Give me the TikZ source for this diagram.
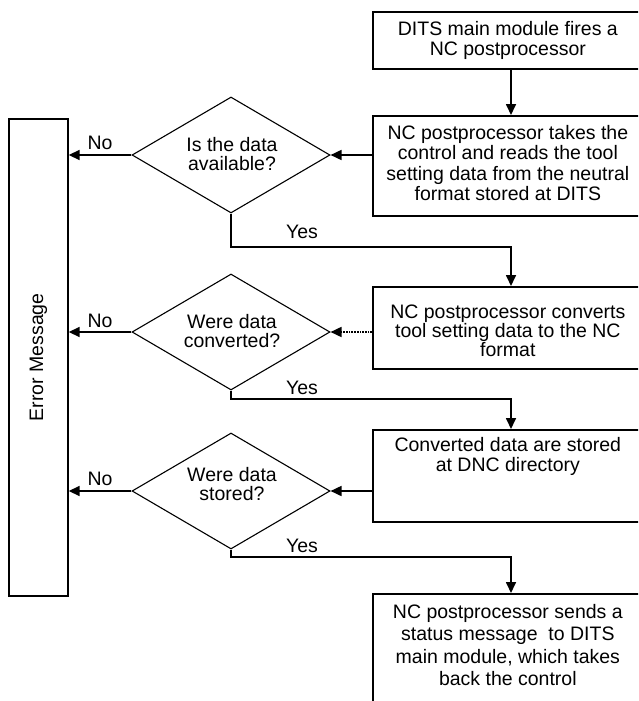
\documentclass[tikz,border=0pt]{standalone}
\usepackage{fontspec}
\setmainfont{Liberation Sans}
\usetikzlibrary{arrows.meta,shapes.geometric,calc}

\begin{document}
\begin{tikzpicture}[x=1pt,y=-1pt,
  box/.style={draw, line width=1.7pt, inner sep=0pt, anchor=north west, minimum width=270pt},
  txt/.style={font=\fontsize{19.5}{20.5}\selectfont, align=center, inner sep=0pt},
  dia/.style={draw, shape=diamond, line width=1.1pt, minimum width=198pt, minimum height=116pt, inner sep=0pt, aspect=1.7},
  flow/.style={line width=1.7pt, -{Triangle[length=11pt,width=10pt]}},
  lbl/.style={font=\fontsize{19.5}{20}\selectfont, inner sep=0pt}
]
\useasboundingbox (0,0) rectangle (638,701);
\clip (0,0) rectangle (638,701);
\fill[white] (0,0) rectangle (638,701);

% process boxes on the right (they run past the right edge)
\node[box, minimum height=57pt] (b1) at (372,11) {};
\node[txt] (b1t) at (b1.center) {DITS main module fires a\\NC postprocessor};

\node[box, minimum height=100pt] (b2) at (372,115) {};
\node[txt] (b2t) at ($(b2.center)+(0,-3)$) {NC postprocessor takes the\\control and reads the tool\\setting data from the neutral\\format stored at DITS};

\node[box, minimum height=82pt] (b3) at (372,286) {};
\node[txt, font=\fontsize{19.5}{19}\selectfont] (b3t) at ($(b3.center)+(0,3)$) {NC postprocessor converts\\tool setting data to the NC\\format};

\node[box, minimum height=92pt] (b4) at (372,429) {};
\node[txt, anchor=north] (b4t) at ($(b4.north)+(0,8)$) {Converted data are stored\\at DNC directory};

\node[box, minimum height=140pt] (b5) at (372,593) {};
\node[txt, anchor=north, font=\fontsize{19.5}{22.5}\selectfont] (b5t) at ($(b5.north)+(0,11)$) {NC postprocessor sends a\\status message\ \ to DITS\\main module, which takes\\back the control};

% error box on the left
\node[box, minimum width=59pt, minimum height=477pt] (err) at (8,118) {};
\node[txt, rotate=90] (errt) at (err.center) {Error Message};

% decisions
\node[dia] (d1) at (231,155) {};
\node[txt, font=\fontsize{19.5}{19}\selectfont] (d1t) at (232,154) {Is the data\\available?};
\node[dia] (d2) at (231,332) {};
\node[txt, font=\fontsize{19.5}{19}\selectfont] (d2t) at (232,331) {Were data\\converted?};
\node[dia] (d3) at (231,491) {};
\node[txt, font=\fontsize{19.5}{19}\selectfont] (d3t) at (232,484) {Were data\\stored?};

% main flow column
\coordinate (ax) at (511,0);
\coordinate (y1) at (511,247);
\coordinate (y2) at (511,399);
\coordinate (y3) at (511,557);

\draw[flow] (b1.south -| ax) -- (b2.north -| ax);
\draw[flow] (b2.west |- d1.east) -- (d1.east);
\draw[flow, densely dotted] (b3.west |- d2.east) -- (d2.east);
\draw[flow] (b4.west |- d3.east) -- (d3.east);

\draw[flow] (d1.south) |- (y1) -- (b3.north -| ax);
\draw[flow] (d2.south) |- (y2) -- (b4.north -| ax);
\draw[flow] (d3.south) |- (y3) -- (b5.north -| ax);

\draw[flow] (d1.west) -- (d1.west -| err.east);
\draw[flow] (d2.west) -- (d2.west -| err.east);
\draw[flow] (d3.west) -- (d3.west -| err.east);

% branch labels
\node[lbl] (no1) at (100,143) {No};
\node[lbl] (no2) at (100,321) {No};
\node[lbl] (no3) at (100,479) {No};
\node[lbl] (yes1) at (302,232) {Yes};
\node[lbl] (yes2) at (302,388) {Yes};
\node[lbl] (yes3) at (302,546) {Yes};
\end{tikzpicture}
\end{document}
